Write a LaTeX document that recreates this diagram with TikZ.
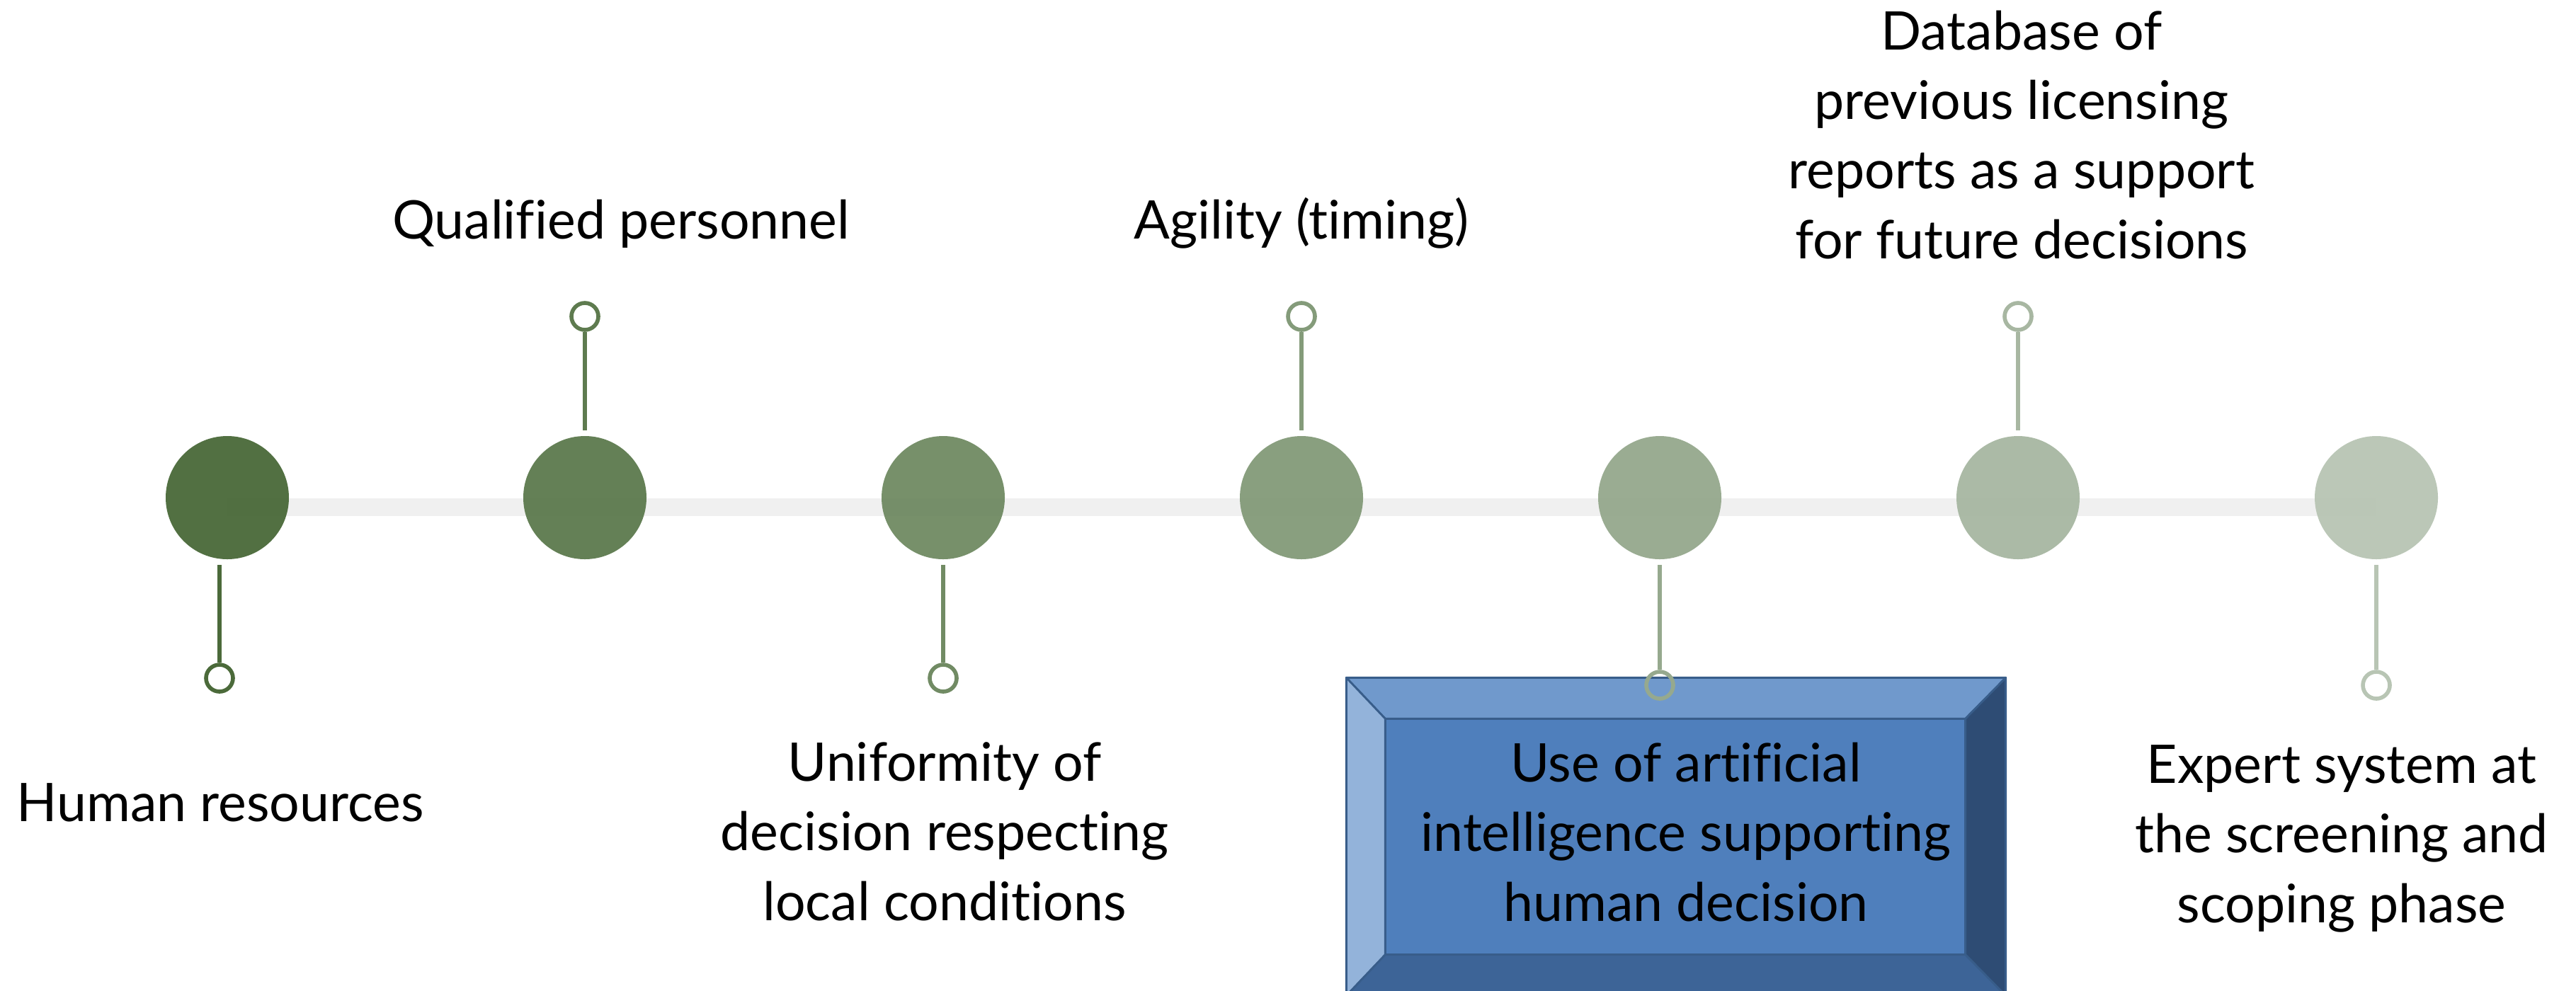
\documentclass[tikz,border=0pt]{standalone}
\usepackage{fontspec}
\setmainfont{Lato}[Ligatures=NoCommon]
\pgfdeclarelayer{background}
\pgfsetlayers{background,main}
\definecolor{g1}{HTML}{4B6A3A}
\definecolor{g2}{HTML}{5E7B4F}
\definecolor{g3}{HTML}{718B64}
\definecolor{g4}{HTML}{849B7A}
\definecolor{g5}{HTML}{96A98E}
\definecolor{g6}{HTML}{A8B7A2}
\definecolor{g7}{HTML}{B8C5B4}
\definecolor{barc}{HTML}{F0F0F0}
\definecolor{bface}{HTML}{4F7FBC}
\definecolor{btop}{HTML}{7099CC}
\definecolor{bleft}{HTML}{93B3DA}
\definecolor{bright}{HTML}{2E4C74}
\definecolor{bbottom}{HTML}{3D6497}
\definecolor{bline}{HTML}{385D8A}
\tikzset{
  bigdot/.style={circle, inner sep=0pt, minimum size=1.74cm, fill=#1, fill opacity=0.96},
  pin/.style={circle, inner sep=0pt, minimum size=0.38cm, draw=#1, line width=1.6pt},
  stem/.style={draw=#1, line width=1.6pt},
  lbl/.style={align=center, anchor=base, font=\fontsize{21.4}{27.9}\selectfont, inner sep=0pt},
  bevel/.style={draw=bline, line width=0.8pt, line join=round}
}
\begin{document}
\begin{tikzpicture}
\useasboundingbox (0,0) rectangle (36.38,-13.99);
% bevel box
\node[inner sep=0pt, minimum width=9.30cm, minimum height=4.48cm] (box) at (23.67,-11.82) {};
\node[inner sep=0pt, minimum width=8.18cm, minimum height=3.32cm] (face) at (23.66,-11.82) {};
\fill[bface] (box.south west) rectangle (box.north east);
\filldraw[bevel, fill=btop] (box.north west) -- (box.north east) -- (face.north east) -- (face.north west) -- cycle;
\filldraw[bevel, fill=bleft] (box.north west) -- (face.north west) -- (face.south west) -- (box.south west) -- cycle;
\filldraw[bevel, fill=bright] (box.north east) -- (box.south east) -- (face.south east) -- (face.north east) -- cycle;
\filldraw[bevel, fill=bbottom] (box.south west) -- (face.south west) -- (face.south east) -- (box.south east) -- cycle;
\draw[bevel] (box.south west) rectangle (box.north east);
\draw[bevel] (face.south west) rectangle (face.north east);
% big dots
\node[bigdot=g1] (c1) at (3.21,-7.03) {};
\node[bigdot=g2] (c2) at (8.26,-7.03) {};
\node[bigdot=g3] (c3) at (13.32,-7.03) {};
\node[bigdot=g4] (c4) at (18.38,-7.03) {};
\node[bigdot=g5] (c5) at (23.44,-7.03) {};
\node[bigdot=g6] (c6) at (28.50,-7.03) {};
\node[bigdot=g7] (c7) at (33.56,-7.03) {};
\begin{pgfonlayer}{background}
\draw[barc, line width=0.25cm] ([yshift=-0.13cm]c1.center) -- ([yshift=-0.13cm]c7.center);
\end{pgfonlayer}
% pins
\node[pin=g1] (d1) at (3.10,-9.58) {};
\node[pin=g2] (d2) at (8.26,-4.47) {};
\node[pin=g3] (d3) at (13.32,-9.58) {};
\node[pin=g4] (d4) at (18.38,-4.47) {};
\node[pin=g5] (d5) at (23.44,-9.68) {};
\node[pin=g6] (d6) at (28.50,-4.47) {};
\node[pin=g7] (d7) at (33.56,-9.68) {};
\draw[stem=g1] (d1.north) -- ([yshift=-0.07cm]d1.north |- c1.south);
\draw[stem=g2] (d2.south) -- ([yshift=0.07cm]c2.north);
\draw[stem=g3] (d3.north) -- ([yshift=-0.07cm]c3.south);
\draw[stem=g4] (d4.south) -- ([yshift=0.07cm]c4.north);
\draw[stem=g5] (d5.north) -- ([yshift=-0.07cm]c5.south);
\draw[stem=g6] (d6.south) -- ([yshift=0.07cm]c6.north);
\draw[stem=g7] (d7.north) -- ([yshift=-0.07cm]c7.south);
% labels (base anchor = last line baseline)
\node[lbl] (t1) at (3.11,-11.60) {Human resources};
\node[lbl] (t2) at (8.77,-3.37) {Qualified personnel};
\node[lbl] (t3) at (13.34,-13.00) {Uniformity of\\decision respecting\\local conditions};
\node[lbl] (t4) at (18.38,-3.37) {Agility (timing)};
\node[lbl] (t5) at (23.81,-13.01) {Use of artificial\\intelligence supporting\\human decision};
\node[lbl] (t6) at (28.55,-3.65) {Database of\\previous licensing\\reports as a support\\for future decisions};
\node[lbl] (t7) at (33.07,-13.03) {Expert system at\\the screening and\\scoping phase};
\end{tikzpicture}
\end{document}
